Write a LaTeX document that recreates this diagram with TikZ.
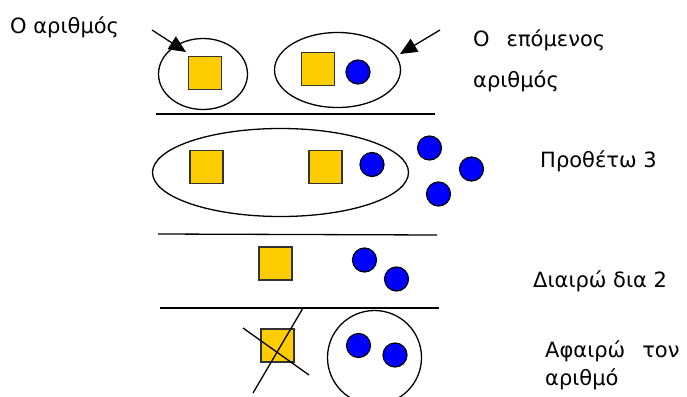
\documentclass[tikz,border=0pt]{standalone}
\usepackage{fontspec}
\setmainfont{DejaVu Sans}
\usetikzlibrary{arrows.meta,shapes.geometric}
\definecolor{cubeyellow}{HTML}{FFCC00}
\definecolor{ballblue}{HTML}{0000FF}

\begin{document}
\begin{tikzpicture}[x=1pt, y=-1pt,
        cube/.style={draw=black!80, fill=cubeyellow, line width=1.2pt, minimum size=33pt, inner sep=0pt},
        ball/.style={circle, draw=black, fill=ballblue, line width=1.2pt, minimum size=24pt, inner sep=0pt},
        group/.style={ellipse, draw=black, line width=1.3pt, inner sep=0pt},
        rule/.style={black, line width=1.3pt},
        pointer/.style={black, line width=1.3pt, -{Triangle[length=17pt, width=15pt]}},
        lbl/.style={font=\fontsize{21}{24}\selectfont, inner sep=0pt, anchor=base west}]
        \useasboundingbox (0,0) rectangle (687,396);

        % the number and the next one
        \node[group, minimum width=89pt, minimum height=71pt] (num) at (203,74) {};
        \node[group, minimum width=126pt, minimum height=75pt] (nxt) at (337.5,70) {};
        \node[cube] (c1) at (205,73) {};
        \node[cube] (c2) at (318,69) {};
        \node[ball] (b1) at (358,72) {};

        \coordinate (p1) at (152,30);
        \coordinate (t1) at (186,52);
        \coordinate (p2) at (440,30);
        \coordinate (t2) at (400,54);
        \draw[pointer] (p1) -- (t1);
        \draw[pointer] (p2) -- (t2);

        \draw[rule] (156,114) -- (435,114);

        % add 3
        \node[group, minimum width=256pt, minimum height=88pt] (sum) at (280.5,172.5) {};
        \node[cube] (c3) at (206.5,167) {};
        \node[cube] (c4) at (325.5,167) {};
        \node[ball] (b2) at (372,164.5) {};
        \node[ball] (b3) at (429.5,148) {};
        \node[ball] (b4) at (471.5,169) {};
        \node[ball] (b5) at (438.5,194) {};

        \draw[rule] (158,234) -- (437,235);

        % divide by 2
        \node[cube] (c5) at (275.5,263.5) {};
        \node[ball] (b6) at (364.5,260) {};
        \node[ball] (b7) at (396.5,279) {};

        \draw[rule] (160,308) -- (439,308);

        % take away the number
        \node[cube] (c6) at (277.5,345.5) {};
        \draw[rule] (243,328) -- (309,375);
        \draw[rule] (303,308) -- (253,393);
        \node[group, circle, minimum size=94pt] (rest) at (374.5,357.5) {};
        \node[ball] (b8) at (358.5,345.5) {};
        \node[ball] (b9) at (395,355) {};

        % labels
        \node[lbl] (lnum) at (10,34) {Ο αριθμός};
        \node[lbl] (lnxt) at (473,47) {Ο\hspace{17pt}επόμενος};
        \node[lbl] (lnxtb) at (473,87) {αριθμός};
        \node[lbl] (ladd) at (540,167) {Προθέτω 3};
        \node[lbl] (lhalf) at (533,287) {Διαιρώ δια 2};
        \node[lbl] (lsub) at (545,357) {Αφαιρώ\hspace{17pt}τον};
        \node[lbl] (lsubb) at (545,385) {αριθμό};
\end{tikzpicture}
\end{document}
